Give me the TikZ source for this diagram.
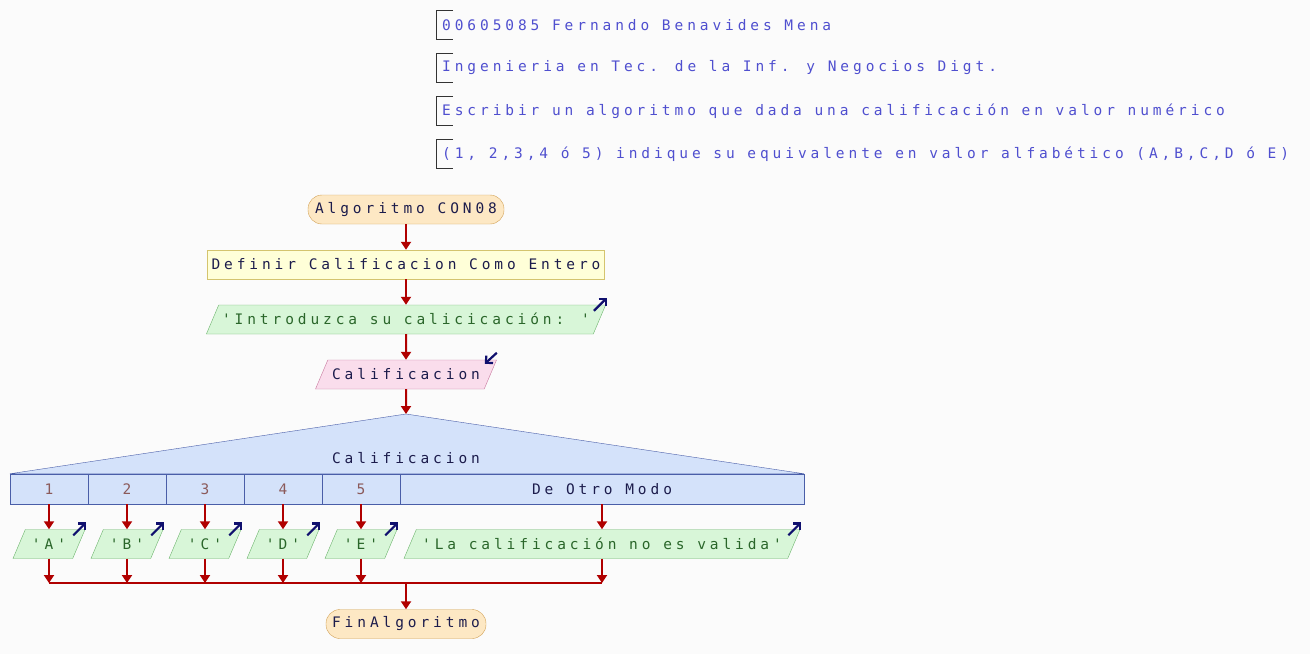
\documentclass[tikz,border=0pt]{standalone}
\usepackage{fontspec}
\setmainfont{DejaVu Sans Mono}[LetterSpace=27, Ligatures=TeXOff]
\usepackage{tikz}
\usetikzlibrary{shapes.geometric, arrows.meta}

\definecolor{paper}{HTML}{FBFBFB}
\definecolor{flowred}{HTML}{B00000}
\definecolor{navy}{HTML}{10106E}
\definecolor{inktext}{HTML}{1C1C4C}
\definecolor{notetext}{HTML}{4F4FCF}
\definecolor{greentext}{HTML}{2A662A}
\definecolor{casetext}{HTML}{8B5A5A}
\definecolor{startfill}{HTML}{FDE8C4}
\definecolor{startdraw}{HTML}{D2A256}
\definecolor{procfill}{HTML}{FFFFD8}
\definecolor{procdraw}{HTML}{D4C46E}
\definecolor{outfill}{HTML}{D8F6D8}
\definecolor{outdraw}{HTML}{6CB46C}
\definecolor{infill}{HTML}{FADDEC}
\definecolor{indraw}{HTML}{C8789E}
\definecolor{casefill}{HTML}{D4E2FA}
\definecolor{casedraw}{HTML}{4A5EA8}

\newcommand{\flowfont}{\fontsize{14.5}{17}\selectfont}

\tikzstyle{startstop} = [
    rectangle,
    rounded corners=14pt,
    minimum height=29pt,
    fill=startfill,
    draw=startdraw,
    text=inktext
]
\tikzstyle{process} = [
    rectangle,
    minimum width=397pt,
    minimum height=29pt,
    fill=procfill,
    draw=procdraw,
    text=inktext
]
\tikzstyle{outbox} = [
    trapezium,
    trapezium left angle=67,
    trapezium right angle=113,
    trapezium stretches body,
    text height=11.5pt,
    text depth=1.5pt,
    inner ysep=8pt,
    fill=outfill,
    draw=outdraw,
    text=greentext
]
\tikzstyle{inbox} = [
    trapezium,
    trapezium left angle=67,
    trapezium right angle=113,
    trapezium stretches body,
    text height=11.5pt,
    text depth=1.5pt,
    inner ysep=8pt,
    fill=infill,
    draw=indraw,
    text=inktext
]
\tikzstyle{casecell} = [
    rectangle,
    minimum width=78pt,
    minimum height=30pt,
    fill=casefill,
    draw=casedraw,
    text=casetext
]
\tikzstyle{casetop} = [fill=casefill, draw=casedraw]
\tikzstyle{comment} = [anchor=west, inner sep=0pt, text=notetext]
\tikzstyle{bracket} = [draw=black!80, line width=0.9pt]
\tikzstyle{arrow} = [line width=2pt, draw=flowred, -{Triangle[length=8pt,width=10pt]}]
\tikzstyle{line} = [line width=2pt, draw=flowred]
\tikzstyle{io} = [line width=2.2pt, draw=navy, -{Straight Barb[length=5pt,width=10pt]}]

\begin{document}
\begin{tikzpicture}[x=1pt, y=1pt, node distance=55pt, font=\flowfont]

\useasboundingbox [fill=paper] (0,0) rectangle (1310,-654);

% header notes
\node (note1) [comment] at (442,-25) {00605085 Fernando Benavides Mena};
\node (note2) [comment] at (442,-68) {Ingenieria en Tec. de la Inf. y Negocios Digt.};
\node (note3) [comment] at (442,-111) {Escribir un algoritmo que dada una calificación en valor numérico};
\node (note4) [comment] at (442,-154) {(1, 2,3,4 ó 5) indique su equivalente en valor alfabético (A,B,C,D ó E)};

\draw [bracket] ([shift={(11,15)}]note1.west) -- ++(-17,0) |- ++(17,-29);
\draw [bracket] ([shift={(11,15)}]note2.west) -- ++(-17,0) |- ++(17,-29);
\draw [bracket] ([shift={(11,15)}]note3.west) -- ++(-17,0) |- ++(17,-29);
\draw [bracket] ([shift={(11,15)}]note4.west) -- ++(-17,0) |- ++(17,-29);

% main column
\node (start) [startstop, minimum width=196pt] at (406,-209.5) {Algoritmo CON08};

\node (define) [process, below of=start]
{Definir Calificacion Como Entero};

\node (ask) [outbox, below of=define, minimum width=396pt]
{'Introduzca su calicicación: '};

\node (read) [inbox, below of=ask, minimum width=181pt]
{Calificacion};

\coordinate (apex) at (406,-414);

% case cells
\node (c1) [casecell] at (49,-489) {1};
\node (c2) [casecell] at (127,-489) {2};
\node (c3) [casecell] at (205,-489) {3};
\node (c4) [casecell] at (283,-489) {4};
\node (c5) [casecell] at (361,-489) {5};
\node (c6) [casecell, minimum width=404pt, text=inktext] at (602,-489) {De Otro Modo};

\draw [casetop] (apex) -- (c6.north east) -- (c1.north west) -- cycle;
\node (selector) [text=inktext] at (406,-458) {Calificacion};

% outputs
\node (oA) [outbox, below of=c1, minimum width=72pt] {'A'};
\node (oB) [outbox, below of=c2, minimum width=72pt] {'B'};
\node (oC) [outbox, below of=c3, minimum width=72pt] {'C'};
\node (oD) [outbox, below of=c4, minimum width=72pt] {'D'};
\node (oE) [outbox, below of=c5, minimum width=72pt] {'E'};
\node (oOther) [outbox, below of=c6, minimum width=396pt]
{'La calificación no es valida'};

\coordinate (mA) at (49,-583);
\coordinate (mB) at (127,-583);
\coordinate (mC) at (205,-583);
\coordinate (mD) at (283,-583);
\coordinate (mE) at (361,-583);
\coordinate (mOther) at (602,-583);
\coordinate (mMid) at (406,-583);

\node (stop) [startstop, minimum width=160pt] at (406,-624) {FinAlgoritmo};

% connectors
\draw [arrow] (start) -- (define);
\draw [arrow] (define) -- (ask);
\draw [arrow] (ask) -- (read);
\draw [arrow] (read) -- (apex);

\draw [arrow] (c1) -- (oA);
\draw [arrow] (c2) -- (oB);
\draw [arrow] (c3) -- (oC);
\draw [arrow] (c4) -- (oD);
\draw [arrow] (c5) -- (oE);
\draw [arrow] (c6) -- (oOther);

\draw [line] (mA) -- (mOther);
\draw [arrow] (oA) -- (mA);
\draw [arrow] (oB) -- (mB);
\draw [arrow] (oC) -- (mC);
\draw [arrow] (oD) -- (mD);
\draw [arrow] (oE) -- (mE);
\draw [arrow] (oOther) -- (mOther);
\draw [arrow] (mMid) -- (stop);

% in/out marks
\draw [io] ([shift={(-12,-6)}]ask.top right corner) -- ([shift={(1,7)}]ask.top right corner);
\draw [io] ([shift={(0,7)}]read.top right corner) -- ([shift={(-12,-4)}]read.top right corner);
\draw [io] ([shift={(-12,-6)}]oA.top right corner) -- ([shift={(1,7)}]oA.top right corner);
\draw [io] ([shift={(-12,-6)}]oB.top right corner) -- ([shift={(1,7)}]oB.top right corner);
\draw [io] ([shift={(-12,-6)}]oC.top right corner) -- ([shift={(1,7)}]oC.top right corner);
\draw [io] ([shift={(-12,-6)}]oD.top right corner) -- ([shift={(1,7)}]oD.top right corner);
\draw [io] ([shift={(-12,-6)}]oE.top right corner) -- ([shift={(1,7)}]oE.top right corner);
\draw [io] ([shift={(-12,-6)}]oOther.top right corner) -- ([shift={(1,7)}]oOther.top right corner);

\end{tikzpicture}
\end{document}
